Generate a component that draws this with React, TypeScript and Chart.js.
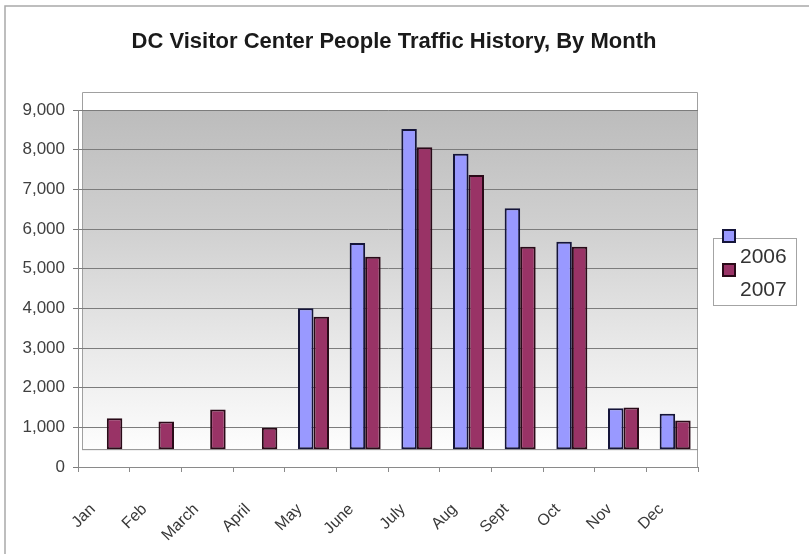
import React, { useEffect, useRef } from "react";
import { Chart, registerables } from "chart.js";

Chart.register(...registerables);

const months = ["Jan", "Feb", "March", "April", "May", "June", "July", "Aug", "Sept", "Oct", "Nov", "Dec"];
const visitors2006: (number | null)[] = [null, null, null, null, 4000, 5650, 8520, 7900, 6520, 5680, 1480, 1340];
const visitors2007: (number | null)[] = [1230, 1150, 1450, 990, 3790, 5300, 8060, 7360, 5550, 5550, 1500, 1170];
const seriesLabels = ["2006", "2007"];
const yTicks = [0, 1000, 2000, 3000, 4000, 5000, 6000, 7000, 8000, 9000];

const TITLE = "DC Visitor Center People Traffic History, By Month";
const FLOOR_VALUE = 450; // columns stand on the chart floor, slightly above zero
const FILL_2006 = "#9999ff";
const FILL_2007 = "#993366";
const EDGE_2006 = "#15153a";
const EDGE_2007 = "#2a0a18";
const FONT = '"Liberation Sans", Arial, sans-serif';

// Back wall with a grey-to-white gradient, the floor and the outer frame.
const wallPlugin = {
  id: "wall",
  beforeDraw(chart: any) {
    const { ctx, chartArea, scales } = chart;
    const y = scales.y;
    const depth = 18;
    const shift = 4;
    ctx.save();
    ctx.fillStyle = "#ffffff";
    ctx.fillRect(0, 0, chart.width, chart.height);

    // outer frame
    ctx.strokeStyle = "#a9a9a9";
    ctx.lineWidth = 1.5;
    ctx.beginPath();
    ctx.moveTo(5, chart.height);
    ctx.lineTo(5, 6);
    ctx.lineTo(chart.width, 6);
    ctx.stroke();

    const left = chartArea.left + shift;
    const right = chartArea.right;
    const top = y.getPixelForValue(9000) - depth;
    const wallTop = y.getPixelForValue(9000);
    const floor = y.getPixelForValue(FLOOR_VALUE);

    const grad = ctx.createLinearGradient(0, wallTop, 0, floor);
    grad.addColorStop(0, "#bcbcbc");
    grad.addColorStop(0.35, "#d0d0d0");
    grad.addColorStop(0.7, "#e9e9e9");
    grad.addColorStop(1, "#fdfdfd");
    ctx.fillStyle = grad;
    ctx.fillRect(left, wallTop, right - left, floor - wallTop);

    ctx.strokeStyle = "#a0a0a0";
    ctx.lineWidth = 1;
    ctx.beginPath();
    ctx.moveTo(left + 0.5, floor);
    ctx.lineTo(left + 0.5, top + 0.5);
    ctx.lineTo(right - 0.5, top + 0.5);
    ctx.lineTo(right - 0.5, chartArea.bottom);
    ctx.stroke();
    ctx.strokeStyle = "#8c8c8c";
    ctx.beginPath();
    ctx.moveTo(left, floor + 0.5);
    ctx.lineTo(right, floor + 0.5);
    ctx.stroke();
    ctx.restore();
  },
  beforeDatasetsDraw(chart: any) {
    chart.ctx.save();
    chart.ctx.translate(3, 0);
  },
  afterDatasetsDraw(chart: any) {
    chart.ctx.restore();
  },
};

// Title and the stacked legend on the right.
const annotationPlugin = {
  id: "annotations",
  afterDraw(chart: any) {
    const { ctx } = chart;
    ctx.save();
    ctx.fillStyle = "#1a1a1a";
    ctx.font = `bold 22px ${FONT}`;
    ctx.textAlign = "center";
    ctx.textBaseline = "alphabetic";
    ctx.fillText(TITLE, 394, 48);

    ctx.strokeStyle = "#a4a4a4";
    ctx.lineWidth = 1;
    ctx.strokeRect(713.5, 238.5, 83, 67);

    const rows = [
      { swatchY: 229, textY: 263 },
      { swatchY: 263, textY: 296 },
    ];
    chart.data.datasets.forEach((ds: any, i: number) => {
      const r = rows[i];
      ctx.fillStyle = ds.backgroundColor;
      ctx.fillRect(722, r.swatchY, 14, 14);
      ctx.strokeStyle = ds.borderColor;
      ctx.lineWidth = 2;
      ctx.strokeRect(723, r.swatchY + 1, 12, 12);
      ctx.fillStyle = "#333333";
      ctx.font = `21px ${FONT}`;
      ctx.textAlign = "left";
      ctx.fillText(ds.label, 740, r.textY);
    });
    ctx.restore();
  },
};

export default function App() {
  const canvasRef = useRef<HTMLCanvasElement | null>(null);

  useEffect(() => {
    const canvas = canvasRef.current;
    if (!canvas) return;
    const chart = new Chart(canvas, {
      type: "bar",
      data: {
        labels: months,
        datasets: [
          {
            label: seriesLabels[0],
            data: visitors2006,
            backgroundColor: FILL_2006,
            borderColor: EDGE_2006,
            borderWidth: 2,
            borderSkipped: false,
            base: FLOOR_VALUE,
          },
          {
            label: seriesLabels[1],
            data: visitors2007,
            backgroundColor: FILL_2007,
            borderColor: EDGE_2007,
            borderWidth: 2,
            borderSkipped: false,
            base: FLOOR_VALUE,
          },
        ] as any,
      },
      options: {
        responsive: false,
        animation: false,
        devicePixelRatio: 1,
        categoryPercentage: 0.6,
        barPercentage: 1,
        layout: { padding: { left: 8, right: 111, top: 110, bottom: 0 } },
        plugins: {
          legend: { display: false },
          title: { display: false },
          tooltip: { enabled: false },
        },
        scales: {
          x: {
            offset: true,
            grid: {
              offset: true,
              drawOnChartArea: false,
              drawTicks: true,
              tickLength: 5,
              color: "#8a8a8a",
            },
            border: { display: true, color: "#8a8a8a" },
            ticks: {
              minRotation: 45,
              maxRotation: 45,
              padding: 28,
              labelOffset: -11,
              color: "#383838",
              font: { family: FONT, size: 16 },
            },
            afterFit: (scale: any) => {
              scale.height = 87;
            },
          },
          y: {
            min: 0,
            max: 9000,
            afterBuildTicks: (scale: any) => {
              scale.ticks = yTicks.map((v) => ({ value: v }));
            },
            grid: {
              color: "#7c7c7c",
              lineWidth: 1,
              drawTicks: true,
              tickLength: 5,
            },
            border: { display: true, color: "#8a8a8a" },
            ticks: {
              padding: 8,
              color: "#404040",
              font: { family: FONT, size: 17 },
            },
            afterFit: (scale: any) => {
              scale.width = 70;
            },
          },
        },
      },
      plugins: [wallPlugin, annotationPlugin],
    });
    return () => chart.destroy();
  }, []);

  return (
    <div style={{ position: "fixed", left: 0, top: 0, width: 809, height: 554, background: "#fff" }}>
      <canvas ref={canvasRef} width={809} height={554} />
    </div>
  );
}
